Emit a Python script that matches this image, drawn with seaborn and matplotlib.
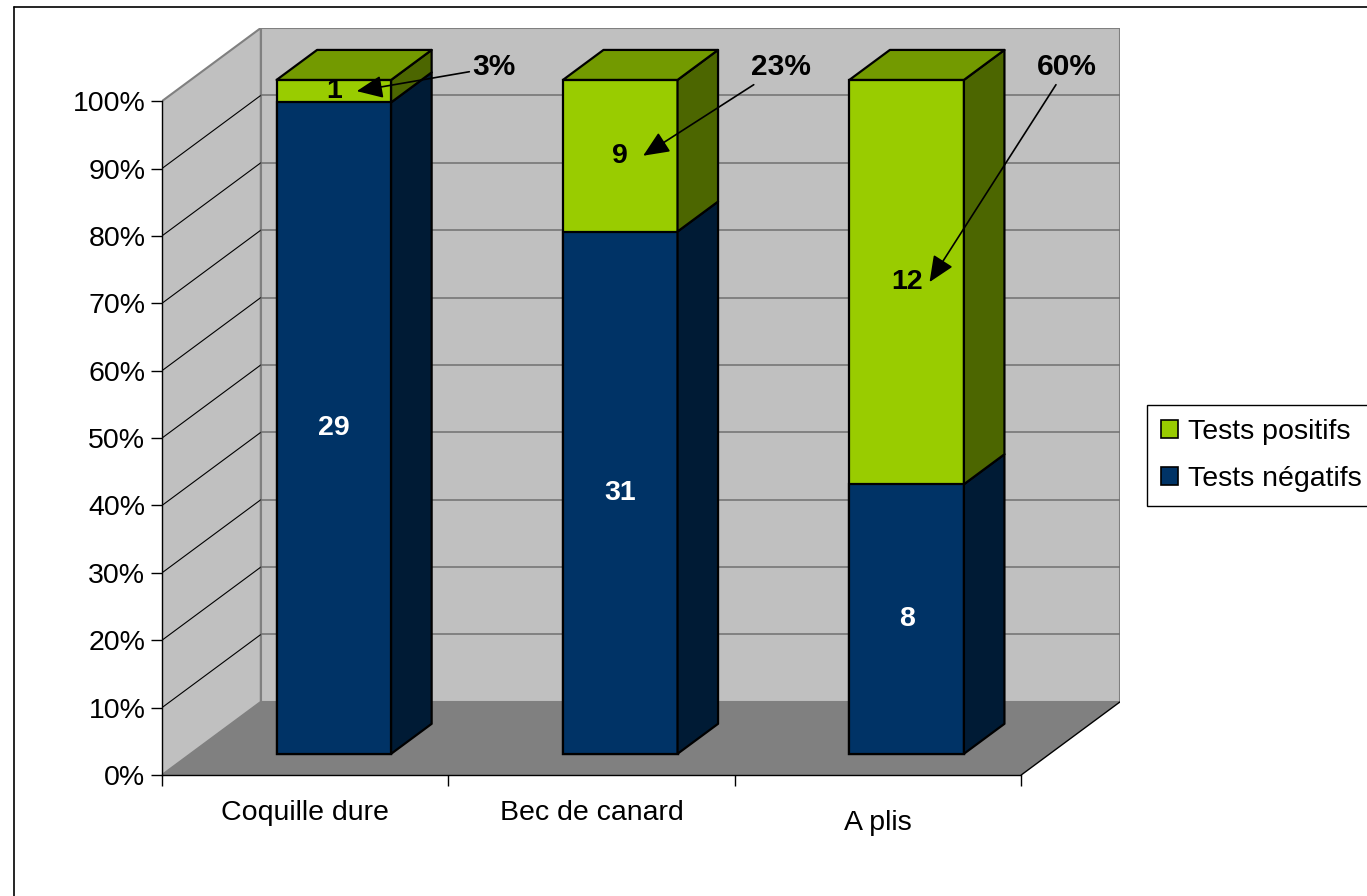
import matplotlib
matplotlib.use("Agg")
import matplotlib.pyplot as plt
import pandas as pd
import seaborn as sns
from matplotlib.lines import Line2D
from matplotlib.patches import Patch, Polygon

# --- Data ---
categories = ["Coquille dure", "Bec de canard", "A plis"]
tests_negatifs = [29, 31, 8]
tests_positifs = [1, 9, 12]
legend_labels = ["Tests positifs", "Tests négatifs"]

# --- Style ---
GREEN, GREEN_TOP, GREEN_SIDE = "#99CC00", "#739A00", "#4C6600"
BLUE, BLUE_SIDE = "#003366", "#001B35"
WALL, FLOOR = "#C0C0C0", "#808080"
FS = 20.5

sns.set_theme(style="white")
plt.rcParams["font.family"] = ["Liberation Sans", "DejaVu Sans"]
plt.rcParams["text.color"] = "black"
plt.rcParams["xtick.color"] = "black"
plt.rcParams["ytick.color"] = "black"

# 3D depth of the plot box (data units) and bar depth fractions
DX, DY = 0.345, 10.85
F0, F1 = 0.29, 0.70
BAR_W = 0.4

totals = [n + p for n, p in zip(tests_negatifs, tests_positifs)]
df = pd.DataFrame({
    "categorie": categories,
    "negatifs": [100 * n / t for n, t in zip(tests_negatifs, totals)],
    "total": [100.0] * len(categories),
})
pct_pos = [int(100 * p / t + 0.5) for p, t in zip(tests_positifs, totals)]

W, H = 1367, 896
fig = plt.figure(figsize=(W / 100, H / 100), dpi=100)
ax = fig.add_axes([162 / W, 1 - 775 / H, (1120 - 162) / W, (775 - 28) / H])

x0, x1 = -0.5, len(categories) - 0.5

# --- Walls and floor ---
ax.add_patch(Polygon([(x0 + DX, DY), (x1 + DX, DY), (x1 + DX, 100 + DY), (x0 + DX, 100 + DY)],
                     closed=True, facecolor=WALL, edgecolor=FLOOR, lw=1.5, zorder=0.2))
ax.add_patch(Polygon([(x0, 0), (x0 + DX, DY), (x0 + DX, 100 + DY), (x0, 100)],
                     closed=True, facecolor=WALL, edgecolor=FLOOR, lw=1.5, zorder=0.2))
ax.add_patch(Polygon([(x0, 0), (x1, 0), (x1 + DX, DY), (x0 + DX, DY)],
                     closed=True, facecolor=FLOOR, edgecolor="none", zorder=0.3))
for v in range(10, 100, 10):
    ax.plot([x0, x0 + DX], [v, v + DY], color="black", lw=0.8, zorder=0.4)
    ax.plot([x0 + DX, x1 + DX], [v + DY, v + DY], color="#707070", lw=1.1, zorder=0.4)
ax.plot([x1, x1 + DX], [0, DY], color="black", lw=1, zorder=0.4)

# --- Bars (front faces) ---
sns.barplot(data=df, x="categorie", y="total", color=GREEN, saturation=1, width=BAR_W,
            errorbar=None, edgecolor="black", linewidth=1.6, zorder=3, ax=ax)
sns.barplot(data=df, x="categorie", y="negatifs", color=BLUE, saturation=1, width=BAR_W,
            errorbar=None, edgecolor="black", linewidth=1.6, zorder=3, ax=ax)
green_bars, blue_bars = ax.containers[0], ax.containers[1]

ox, oy = F0 * DX, F0 * DY
bdx, bdy = (F1 - F0) * DX, (F1 - F0) * DY
for bar in list(green_bars) + list(blue_bars):
    bar.set_x(bar.get_x() + ox)
    bar.set_y(bar.get_y() + oy)


def side_face(xr, ya, yb, color):
    ax.add_patch(Polygon([(xr, ya), (xr + bdx, ya + bdy), (xr + bdx, yb + bdy), (xr, yb)],
                         closed=True, facecolor=color, edgecolor="black", lw=1.6,
                         joinstyle="round", zorder=3))


for i, (g, b) in enumerate(zip(green_bars, blue_bars)):
    xl, w = b.get_x(), b.get_width()
    xr, xc = xl + w, xl + w / 2
    yb0, yb1 = b.get_y(), b.get_y() + b.get_height()
    yg1 = g.get_y() + g.get_height()
    side_face(xr, yb0, yb1, BLUE_SIDE)
    side_face(xr, yb1, yg1, GREEN_SIDE)
    ax.add_patch(Polygon([(xl, yg1), (xr, yg1), (xr + bdx, yg1 + bdy), (xl + bdx, yg1 + bdy)],
                         closed=True, facecolor=GREEN_TOP, edgecolor="black", lw=1.6,
                         joinstyle="round", zorder=3))
    # value labels
    ax.text(xc, (yb0 + yb1) / 2, str(tests_negatifs[i]), ha="center", va="center",
            color="white", fontsize=FS, fontweight="bold", zorder=5)
    ax.text(xc, (yb1 + yg1) / 2, str(tests_positifs[i]), ha="center", va="center",
            color="black", fontsize=FS, fontweight="bold", zorder=5)
    # percentage call-outs
    ax.annotate(f"{pct_pos[i]}%", xy=(xc + 0.08, (yb1 + yg1) / 2),
                xytext=(xc + 0.56, 105.0), ha="center", va="center",
                fontsize=FS + 1, fontweight="bold", annotation_clip=False, zorder=6,
                arrowprops=dict(arrowstyle="-|>,head_length=0.8,head_width=0.35",
                                color="black", lw=1.2, mutation_scale=20,
                                shrinkA=0, shrinkB=0))

# --- Axes ---
ax.set_xlim(x0, x1 + DX)
ax.set_ylim(0, 100 + DY)
ax.set_xlabel("")
ax.set_ylabel("")
ax.set_yticks(range(0, 101, 10), [f"{v}%" for v in range(0, 101, 10)])
ax.set_xticks(range(len(categories)), categories)
ax.set_xticks([x0 + k for k in range(len(categories) + 1)], minor=True)
ax.tick_params(axis="y", left=True, direction="out", length=8, width=1, pad=4, labelsize=FS)
ax.tick_params(axis="x", which="major", bottom=True, length=0, pad=18, labelsize=FS)
ax.tick_params(axis="x", which="minor", bottom=True, direction="out", length=8, width=1)
ax.xaxis.get_major_ticks()[2].label1.set_y(-0.013)

for s in ["top", "right"]:
    ax.spines[s].set_visible(False)
ax.spines["left"].set_bounds(0, 100)
ax.spines["bottom"].set_bounds(x0, x1)
for s in ["left", "bottom"]:
    ax.spines[s].set_color("black")
    ax.spines[s].set_linewidth(1)
ax.set_facecolor("none")

# --- Legend ---
handles = [Patch(facecolor=GREEN, edgecolor="black", lw=1.2),
           Patch(facecolor=BLUE, edgecolor="black", lw=1.2)]
leg = fig.legend(handles, legend_labels, loc="upper left",
                 bbox_to_anchor=(1147 / W, 1 - 405 / H), bbox_transform=fig.transFigure,
                 borderaxespad=0, fontsize=FS, frameon=True, fancybox=False,
                 framealpha=1, edgecolor="black", handlelength=0.6, handleheight=0.6,
                 handletextpad=0.35, labelspacing=0.72, borderpad=0.5)
leg.get_frame().set_linewidth(1)

# --- Outer chart border ---
fig.add_artist(Line2D([14 / W, 14 / W], [0, 1 - 7 / H], color="black", lw=1.2,
                      transform=fig.transFigure))
fig.add_artist(Line2D([14 / W, 1], [1 - 7 / H, 1 - 7 / H], color="black", lw=1.2,
                      transform=fig.transFigure))

fig.savefig("out.png", dpi=100)
